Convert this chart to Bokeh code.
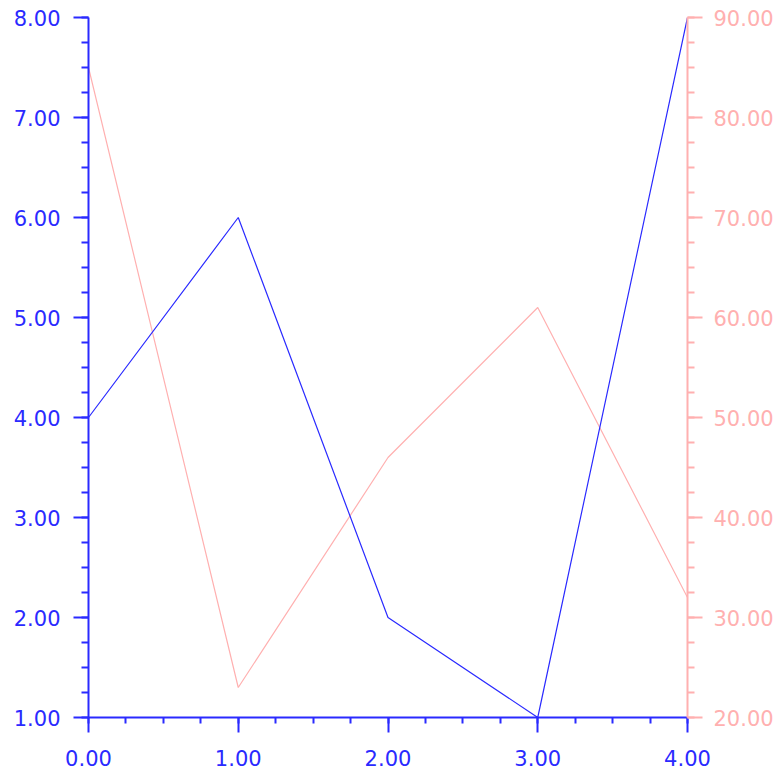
from bokeh.plotting import figure
from bokeh.models import Range1d, LinearAxis, FixedTicker, PrintfTickFormatter
from bokeh.embed import file_html
from bokeh.resources import INLINE

x_vals = [0, 1, 2, 3, 4]
blue_vals = [4, 6, 2, 1, 8]
pink_vals = [85, 23, 46, 61, 32]
x_ticks = [0, 1, 2, 3, 4]
left_ticks = [1, 2, 3, 4, 5, 6, 7, 8]
right_ticks = [20, 30, 40, 50, 60, 70, 80, 90]

BLUE = "#2a2aff"
PINK = "#ffb0b0"
FONT = "DejaVu Sans"

p = figure(width=778, height=772, output_backend="svg", toolbar_location=None,
           x_range=Range1d(0, 4), y_range=Range1d(1, 8),
           min_border_left=88, min_border_right=91, min_border_top=17, min_border_bottom=55)
p.extra_y_ranges = {"right": Range1d(20, 90)}
p.grid.visible = False
p.outline_line_color = None
p.background_fill_color = "white"
p.border_fill_color = "white"

p.line(x_vals, pink_vals, y_range_name="right", line_color=PINK, line_width=1.2)
p.line(x_vals, blue_vals, line_color=BLUE, line_width=1.2)

def minors(ticks, n=4):
    out = []
    for a, b in zip(ticks[:-1], ticks[1:]):
        step = (b - a) / n
        out += [a + i * step for i in range(n)]
    out.append(ticks[-1])
    return out

def style(ax, color, tick_len, minor_len, standoff):
    ax.axis_line_color = color
    ax.major_tick_line_color = color
    ax.minor_tick_line_color = color
    ax.major_label_text_color = color
    ax.axis_line_width = 2
    ax.major_tick_line_width = 2
    ax.minor_tick_line_width = 2
    ax.major_tick_out = tick_len
    ax.major_tick_in = 0
    ax.minor_tick_out = minor_len
    ax.minor_tick_in = 0
    ax.major_label_text_font = FONT
    ax.major_label_text_font_size = "21px"
    ax.major_label_standoff = standoff
    ax.formatter = PrintfTickFormatter(format="%.2f")

xa = p.xaxis[0]
xa.ticker = FixedTicker(ticks=x_ticks, minor_ticks=minors(x_ticks))
style(xa, BLUE, 15, 6, 17)

ya = p.yaxis[0]
ya.ticker = FixedTicker(ticks=left_ticks, minor_ticks=minors(left_ticks))
style(ya, BLUE, 15, 7, 13)

ra = LinearAxis(y_range_name="right")
ra.ticker = FixedTicker(ticks=right_ticks, minor_ticks=minors(right_ticks))
style(ra, PINK, 15, 7, 11)
p.add_layout(ra, "right")

open("out.html", "w").write(file_html(p, INLINE))
